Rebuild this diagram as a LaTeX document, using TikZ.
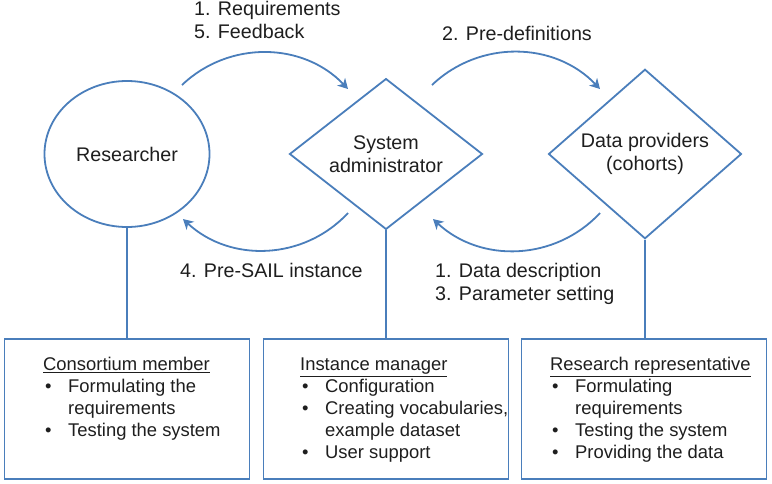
\documentclass[tikz,border=0pt]{standalone}
\usepackage{fontspec}
\setmainfont{Liberation Sans}
\usetikzlibrary{shapes.geometric,arrows.meta}
\definecolor{lineblue}{RGB}{74,126,187}
\definecolor{txtgray}{RGB}{30,30,30}
\newcommand{\bul}{\makebox[25pt][l]{\hspace{2pt}\textbullet}}

\begin{document}
\begin{tikzpicture}[x=1pt, y=-1pt,
		every node/.style={text=txtgray, font=\fontsize{19.7}{23}\selectfont},
		shp/.style={draw=lineblue, line width=1.8pt, inner sep=0pt},
		rolebox/.style={shp, minimum width=245pt, minimum height=140pt},
		roletxt/.style={anchor=north west, inner sep=0pt, font=\fontsize{18.4}{22}\selectfont},
		lbl/.style={anchor=north west, inner sep=0pt, align=left},
		link/.style={lineblue, line width=1.8pt},
		flow/.style={lineblue, line width=1.8pt, -{Stealth[length=10pt, width=11pt, inset=3pt]}, bend left=45}]
	\useasboundingbox (0, 0) rectangle (772, 483);

	% actors
	\node[shp, ellipse, minimum width=165pt, minimum height=146pt] (res) at (127, 154) {Researcher};
	\node[shp, diamond, minimum width=193pt, minimum height=146pt, align=center] (admin) at (386, 154) {System\\administrator};
	\node[shp, diamond, minimum width=193pt, minimum height=146pt, align=center] (prov) at (645, 154) {Data providers\\(cohorts)};

	% roles
	\node[rolebox] (box1) at (127, 409) {};
	\node[rolebox] (box2) at (386, 409) {};
	\node[rolebox] (box3) at (644, 409) {};

	\node[roletxt] (txt1) at (43, 355) {\begin{tabular}{@{}l@{}l@{}}
			\multicolumn{2}{@{}l@{}}{\underline{Consortium member}}\\
			\bul & Formulating the\\
			     & requirements\\
			\bul & Testing the system
		\end{tabular}};
	\node[roletxt] (txt2) at (300, 355) {\begin{tabular}{@{}l@{}l@{}}
			\multicolumn{2}{@{}l@{}}{\underline{Instance manager}}\\
			\bul & Configuration\\
			\bul & Creating vocabularies,\\
			     & example dataset\\
			\bul & User support
		\end{tabular}};
	\node[roletxt] (txt3) at (550, 355) {\begin{tabular}{@{}l@{}l@{}}
			\multicolumn{2}{@{}l@{}}{\underline{Research representative}}\\
			\bul & Formulating\\
			     & requirements\\
			\bul & Testing the system\\
			\bul & Providing the data
		\end{tabular}};

	\draw[link] (res.south) -- (res.south |- box1.north);
	\draw[link] (admin.south) -- (admin.south |- box2.north);
	\draw[link] (prov.south) -- (prov.south |- box3.north);

	% exchanges
	\coordinate (req0) at (182, 85);
	\coordinate (req1) at (348, 89);
	\coordinate (pre0) at (432, 85);
	\coordinate (pre1) at (600, 89);
	\coordinate (inst0) at (348, 213);
	\coordinate (inst1) at (183, 219);
	\coordinate (desc0) at (600, 213);
	\coordinate (desc1) at (433, 219);

	\draw[flow] (req0) to (req1);
	\draw[flow] (pre0) to (pre1);
	\draw[flow] (inst0) to (inst1);
	\draw[flow] (desc0) to (desc1);

	\node[lbl] (lreq) at (194, 1.5) {1. Requirements\\5. Feedback};
	\node[lbl] (lpre) at (442, 26.5) {2. Pre-definitions};
	\node[lbl] (linst) at (180, 263.5) {4. Pre-SAIL instance};
	\node[lbl] (ldesc) at (435, 263.5) {1. Data description\\3. Parameter setting};
\end{tikzpicture}
\end{document}
